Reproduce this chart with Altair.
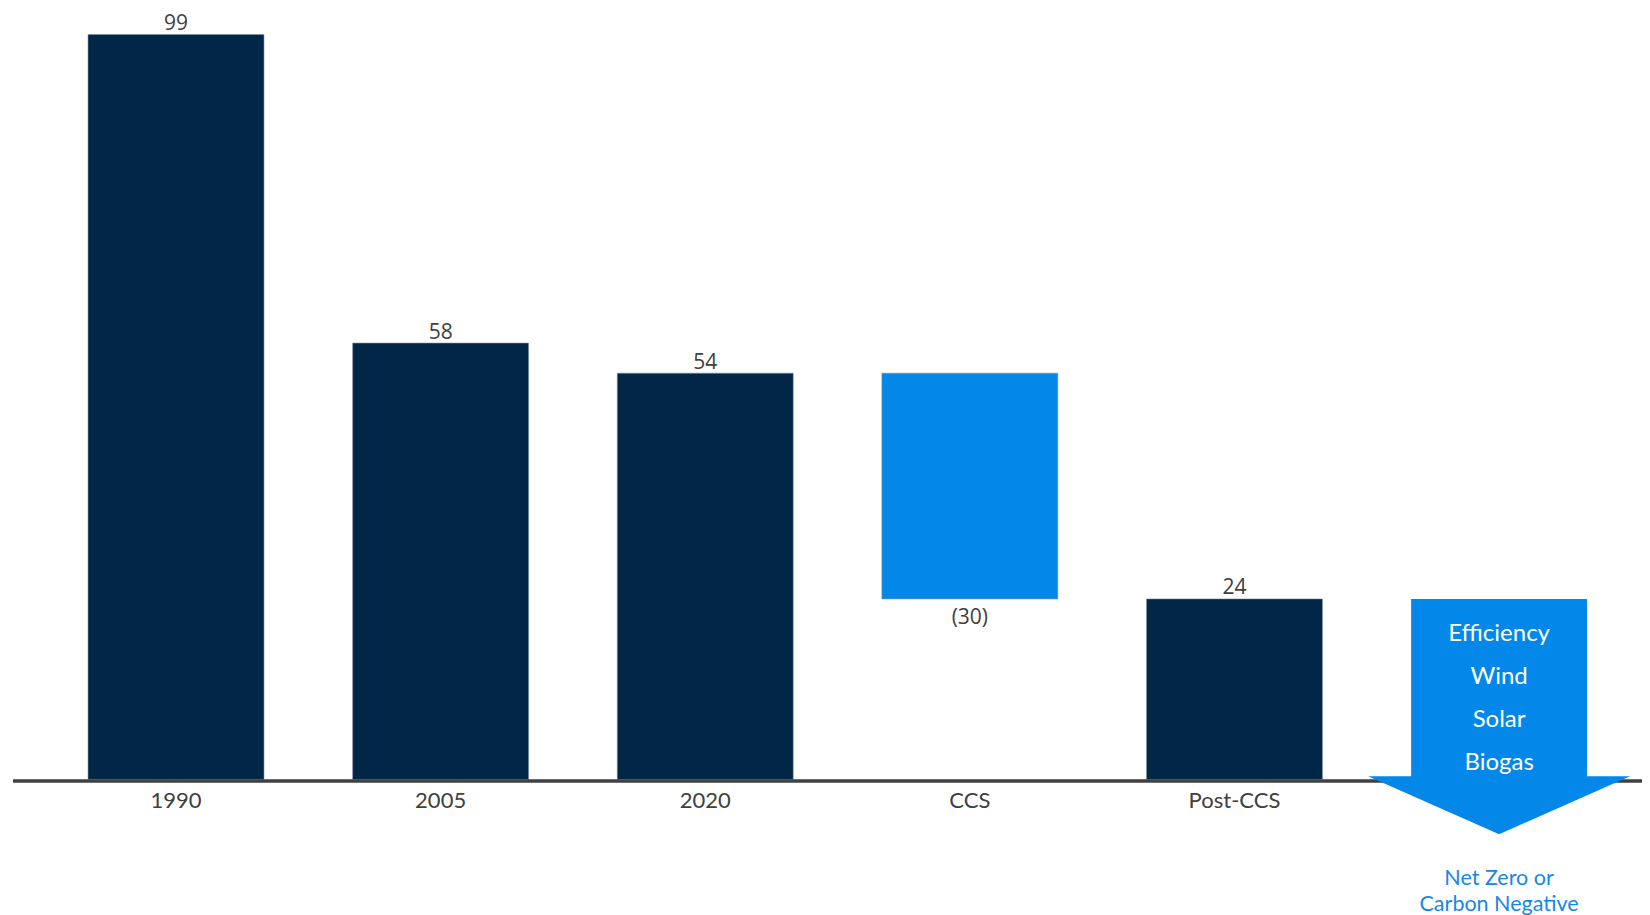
import altair as alt
import pandas as pd

# ---- data ----
categories = ["1990", "2005", "2020", "CCS", "Post-CCS", "Net Zero or Carbon Negative"]
bar_categories = ["1990", "2005", "2020", "CCS", "Post-CCS"]
bar_start = [0, 0, 0, 24, 0]
bar_end = [99, 58, 54, 54, 24]
bar_kind = ["total", "total", "total", "reduction", "total"]
value_labels = ["99", "58", "54", "(30)", "24"]

arrow_category = "Net Zero or Carbon Negative"
arrow_top = 24
arrow_base = 0
arrow_items = ["Efficiency", "Wind", "Solar", "Biogas"]
arrow_caption = ["Net Zero or", "Carbon Negative"]

NAVY = "#012646"
BLUE = "#0388E9"
GREY = "#404040"

bars_df = pd.DataFrame({
    "cat": bar_categories,
    "start": bar_start,
    "end": bar_end,
    "kind": bar_kind,
    "label": value_labels,
})
bars_df["top"] = bars_df[["start", "end"]].max(axis=1)
bars_df["bottom"] = bars_df[["start", "end"]].min(axis=1)

arrow_df = pd.DataFrame({
    "cat": [arrow_category],
    "top": [arrow_top],
    "base": [arrow_base],
    "items": ["\n".join(arrow_items)],
    "caption": ["\n".join(arrow_caption)],
})

H = 907
xscale = alt.Scale(domain=categories, paddingInner=0.335, paddingOuter=0.255, align=0.593)
yscale = alt.Scale(domain=[(771.5 - H) / 7.525, 771.5 / 7.525], nice=False, zero=False)

X = alt.X("cat:N", sort=categories, scale=xscale, axis=None)

bars = alt.Chart(bars_df).mark_bar(stroke="#7f93ab", strokeWidth=0.6).encode(
    x=X,
    y=alt.Y("start:Q", scale=yscale, axis=None),
    y2="end:Q",
    color=alt.Color("kind:N", scale=alt.Scale(domain=["total", "reduction"], range=[NAVY, BLUE]), legend=None),
)

labels_up = alt.Chart(bars_df).transform_filter("datum.kind == 'total'").mark_text(
    baseline="bottom", dy=-0.5, font="Open Sans", fontSize=21, color=GREY
).encode(x=X, y=alt.Y("top:Q", scale=yscale), text="label:N")

labels_down = alt.Chart(bars_df).transform_filter("datum.kind == 'reduction'").mark_text(
    baseline="top", dy=8, font="Open Sans", fontSize=21, color=GREY
).encode(x=X, y=alt.Y("bottom:Q", scale=yscale), text="label:N")

cat_labels = alt.Chart(bars_df).mark_text(
    baseline="top", dy=11, font="Lato", fontSize=22, color=GREY
).encode(x=X, y=alt.Y("datum_zero:Q", scale=yscale), text="cat:N").transform_calculate(datum_zero="0")

axis_line = alt.Chart(pd.DataFrame({"v": [0]})).mark_rule(color=GREY, strokeWidth=3.5, yOffset=1.5).encode(
    y=alt.Y("v:Q", scale=yscale), x=alt.value(5), x2=alt.value(1642)
)

arrow_box = alt.Chart(arrow_df).mark_bar(color=BLUE).encode(
    x=X, y=alt.Y("top:Q", scale=yscale), y2="base:Q"
)

arrow_head = alt.Chart(arrow_df).mark_point(
    shape="M-1,-0.025L1,-0.025L0,0.418Z", size=68644, filled=True, fill=BLUE,
    strokeWidth=0, opacity=1
).encode(x=X, y=alt.Y("base:Q", scale=yscale))

arrow_text = alt.Chart(arrow_df).mark_text(
    baseline="top", dy=23, lineBreak="\n", lineHeight=43, font="Lato", fontSize=24, color="white"
).encode(x=X, y=alt.Y("top:Q", scale=yscale), text="items:N")

caption = alt.Chart(arrow_df).mark_text(
    baseline="top", dy=88.5, lineBreak="\n", lineHeight=25.5, font="Lato", fontSize=21.5, color="#1787E6"
).encode(x=X, y=alt.Y("base:Q", scale=yscale), text="caption:N")

chart = alt.layer(
    bars, labels_up, labels_down, cat_labels, axis_line, arrow_box, arrow_head, arrow_text, caption
).properties(
    width=1634, height=H, padding=0, autosize="none", background="white"
).configure_view(stroke=None)

chart.save("out.html", embed_options={"renderer": "svg", "actions": False})
